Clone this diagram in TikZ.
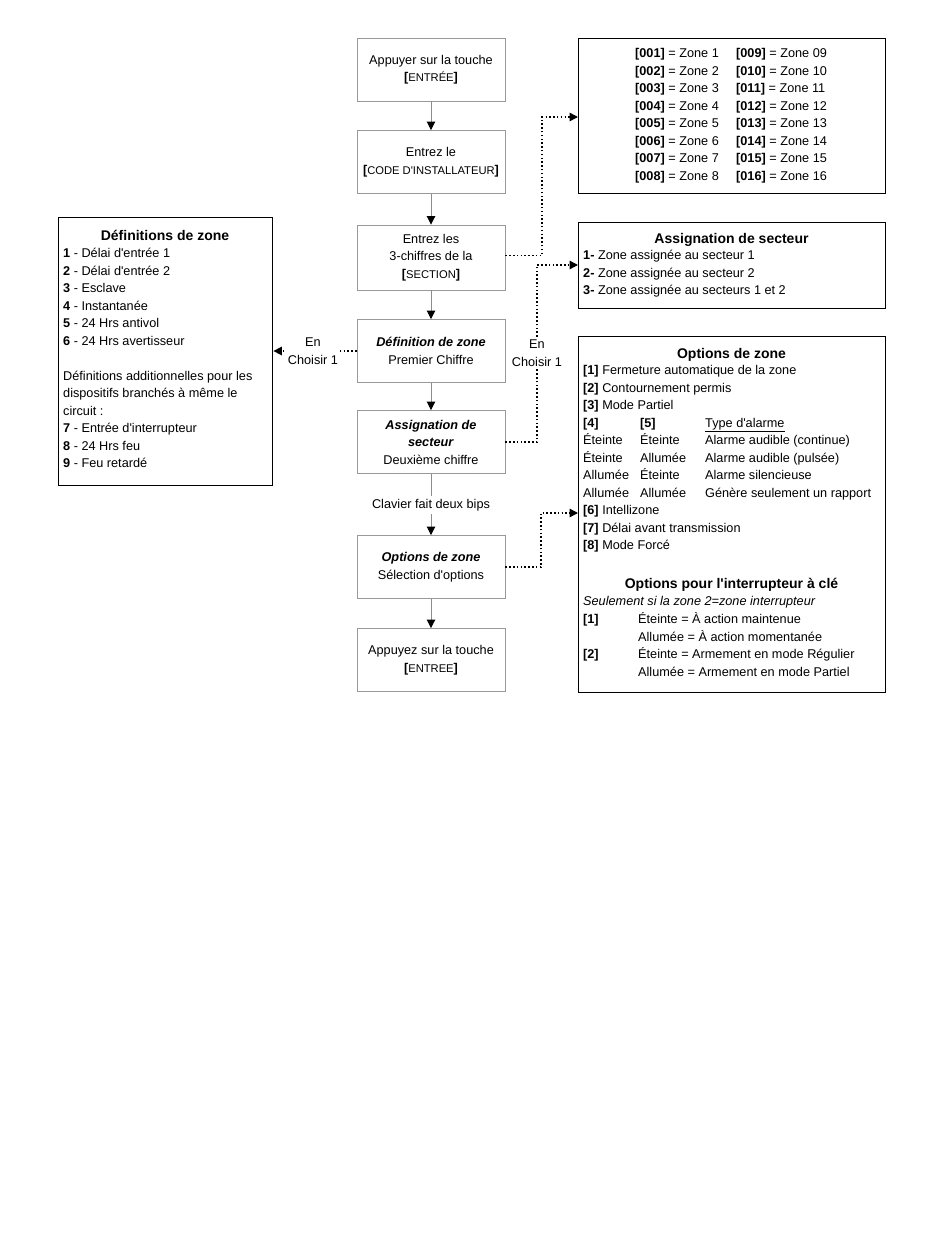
\documentclass[tikz,border=0pt]{standalone}
\usepackage{fontspec}
\setmainfont{Liberation Sans}[Ligatures=TeXOff]
\usetikzlibrary{arrows.meta}
\newcommand\fs{\fontsize{12.7}{17.5}\selectfont}
\newcommand\ttlfont{\fontsize{14}{17.5}\selectfont\bfseries}
\newcommand\kbd[1]{\textbf{[}{\fontsize{11.2}{12}\selectfont #1}\textbf{]}}
\begin{document}
\begin{tikzpicture}[x=1pt,y=-1pt,
  flowbox/.style={draw=black!40, line width=0.9pt, minimum width=148pt, minimum height=63pt, inner sep=0pt, align=center, font=\fs},
  infobox/.style={draw=black, line width=1.4pt, inner sep=0pt, anchor=north west},
  txt/.style={inner sep=0pt, anchor=base west, font=\fs},
  ttl/.style={inner sep=0pt, anchor=base, font=\ttlfont},
  flowarrow/.style={draw=black!45, line width=0.9pt, -{Triangle[length=8.5pt,width=8.5pt,color=black]}},
  flowline/.style={draw=black!45, line width=0.9pt},
  dotarrow/.style={line width=1.5pt, dash pattern=on 1.5pt off 2.3pt, -{Triangle[length=8.5pt,width=8.5pt]}},
  lbl/.style={fill=white, inner sep=1pt, align=center, font=\fs}
]
\useasboundingbox[fill=white] (0,0) rectangle (950,1250);

% flow column
\node[flowbox] (b1) at (431,69.5) {Appuyer sur la touche\\\kbd{ENTRÉE}};
\node[flowbox] (b2) at (431,162) {Entrez le\\\kbd{CODE D'INSTALLATEUR}};
\node[flowbox, minimum height=65pt] (b3) at (431,257.5) {Entrez les\\3-chiffres de la\\\kbd{SECTION}};
\node[flowbox] (b4) at (431,351) {\textbf{\textit{Définition de zone}}\\Premier Chiffre};
\node[flowbox] (b5) at (431,442) {\textbf{\textit{Assignation de}}\\\textbf{\textit{secteur}}\\Deuxième chiffre};
\node[font=\fs, inner sep=3pt] (bips) at (431,505) {Clavier fait deux bips};
\node[flowbox] (b6) at (431,567) {\textbf{\textit{Options de zone}}\\Sélection d'options};
\node[flowbox] (b7) at (431,660) {Appuyez sur la touche\\\kbd{ENTREE}};

\draw[flowarrow] (b1) -- (b2);
\draw[flowarrow] (b2) -- (b3);
\draw[flowarrow] (b3) -- (b4);
\draw[flowarrow] (b4) -- (b5);
\draw[flowline] (b5) -- (bips);
\draw[flowarrow] (bips) -- (b6);
\draw[flowarrow] (b6) -- (b7);

% info boxes
\node[infobox, minimum width=307pt, minimum height=155pt] (r1) at (578,38) {};
\node[txt] at (635,57.5) {\begin{tabular}[t]{@{}p{101pt}@{}l@{}}
\textbf{[001]} = Zone 1 & \textbf{[009]} = Zone 09\\
\textbf{[002]} = Zone 2 & \textbf{[010]} = Zone 10\\
\textbf{[003]} = Zone 3 & \textbf{[011]} = Zone 11\\
\textbf{[004]} = Zone 4 & \textbf{[012]} = Zone 12\\
\textbf{[005]} = Zone 5 & \textbf{[013]} = Zone 13\\
\textbf{[006]} = Zone 6 & \textbf{[014]} = Zone 14\\
\textbf{[007]} = Zone 7 & \textbf{[015]} = Zone 15\\
\textbf{[008]} = Zone 8 & \textbf{[016]} = Zone 16
\end{tabular}};

\node[infobox, minimum width=307pt, minimum height=86pt] (r2) at (578,222) {};
\node[ttl] at (731.5,243) {Assignation de secteur};
\node[txt] at (583,259.5) {\begin{tabular}[t]{@{}l@{}}
\textbf{1-} Zone assignée au secteur 1\\
\textbf{2-} Zone assignée au secteur 2\\
\textbf{3-} Zone assignée au secteurs 1 et 2
\end{tabular}};

\node[infobox, minimum width=307pt, minimum height=356pt] (r3) at (578,336) {};
\node[ttl] at (731.5,358) {Options de zone};
\node[txt] at (583,374.5) {\begin{tabular}[t]{@{}p{57pt}@{}p{65pt}@{}l@{}}
\multicolumn{3}{@{}l@{}}{\textbf{[1]} Fermeture automatique de la zone}\\
\multicolumn{3}{@{}l@{}}{\textbf{[2]} Contournement permis}\\
\multicolumn{3}{@{}l@{}}{\textbf{[3]} Mode Partiel}\\
\textbf{[4]} & \textbf{[5]} & \underline{Type d'alarme}\\
Éteinte & Éteinte & Alarme audible (continue)\\
Éteinte & Allumée & Alarme audible (pulsée)\\
Allumée & Éteinte & Alarme silencieuse\\
Allumée & Allumée & Génère seulement un rapport\\
\multicolumn{3}{@{}l@{}}{\textbf{[6]} Intellizone}\\
\multicolumn{3}{@{}l@{}}{\textbf{[7]} Délai avant transmission}\\
\multicolumn{3}{@{}l@{}}{\textbf{[8]} Mode Forcé}
\end{tabular}};
\node[ttl] at (731.5,588) {Options pour l'interrupteur à clé};
\node[txt] at (583,605.5) {\textit{Seulement si la zone 2=zone interrupteur}};
\node[txt] at (583,623.5) {\begin{tabular}[t]{@{}p{55pt}@{}l@{}}
\textbf{[1]} & Éteinte = À action maintenue\\
 & Allumée = À action momentanée\\
\textbf{[2]} & Éteinte = Armement en mode Régulier\\
 & Allumée = Armement en mode Partiel
\end{tabular}};

\node[infobox, minimum width=214pt, minimum height=268pt] (l1) at (58,217) {};
\node[ttl] at (165,240) {Définitions de zone};
\node[txt] at (63,257.5) {\begin{tabular}[t]{@{}l@{}}
\textbf{1} - Délai d'entrée 1\\
\textbf{2} - Délai d'entrée 2\\
\textbf{3} - Esclave\\
\textbf{4} - Instantanée\\
\textbf{5} - 24 Hrs antivol\\
\textbf{6} - 24 Hrs avertisseur\\
\\
Définitions additionnelles pour les\\
dispositifs branchés à même le\\
circuit :\\
\textbf{7} - Entrée d'interrupteur\\
\textbf{8} - 24 Hrs feu\\
\textbf{9} - Feu retardé
\end{tabular}};

% dotted connectors
\coordinate (c1) at (542,117);
\coordinate (c2) at (537,265);
\coordinate (c4) at (541,513);
\draw[dotarrow] (b3.east) ++(0,-2) -| (c1) -- (r1.west |- c1);
\draw[dotarrow] (b5.east) -| (c2) -- (r2.west |- c2);
\draw[dotarrow] (b6.east) -| (c4) -- (r3.west |- c4);
\draw[dotarrow] (b4.west) -- (l1.east |- b4.west);
\node[lbl] (e1) at (537,353) {En\\Choisir 1};
\node[lbl] (e2) at (313,351) {En\\Choisir 1};
\end{tikzpicture}
\end{document}
